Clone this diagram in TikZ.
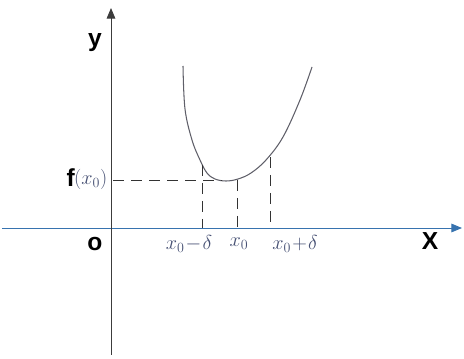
\documentclass[tikz,border=0pt]{standalone}
\usepackage{fontspec}
\setsansfont{Liberation Sans}
\usepackage{tikz}
\usetikzlibrary{arrows.meta}
\definecolor{xaxiscol}{RGB}{55,115,175}
\definecolor{yaxiscol}{RGB}{60,60,60}
\definecolor{curvecol}{RGB}{95,95,105}
\definecolor{handcol}{RGB}{70,80,115}
\tikzset{
  axisline/.style={-{Triangle[length=3.2mm, width=2.6mm]}, line width=0.8pt},
  curveline/.style={line width=0.9pt, color=curvecol},
  guideline/.style={dashed, dash pattern=on 3.2mm off 2.2mm, line width=0.8pt, color=black!80},
  axislabel/.style={font=\sffamily\bfseries\fontsize{21}{24}\selectfont, inner sep=0pt},
  handlabel/.style={font=\fontsize{18}{21}\selectfont, color=handcol, inner sep=0pt}
}

\begin{document}
\begin{tikzpicture}[x=0.03cm, y=0.03cm]
  \useasboundingbox (0,0) rectangle (464,359);
  % axes
  \coordinate (xstart) at (2,131);
  \coordinate (xend) at (462,131);
  \coordinate (ystart) at (111,4);
  \coordinate (yend) at (111,351);
  \draw[axisline, color=xaxiscol] (xstart) -- (xend);
  \draw[axisline, color=yaxiscol] (ystart) -- (yend);
  % curve
  \draw[curveline] plot[smooth, tension=0.6] coordinates {
    (183,293) (185,250) (192,219) (200,199) (207,186) (215,180)
    (226,178) (238,180) (251,186) (266,199) (283,222) (300,259) (312,292)};
  % points on the curve and on the axes
  \coordinate (fx) at (113,179);
  \coordinate (minpt) at (222,179);
  \coordinate (leftpt) at (202,194);
  \coordinate (leftax) at (202,131);
  \coordinate (midpt) at (237,179);
  \coordinate (midax) at (237,131);
  \coordinate (rightpt) at (270,202);
  \coordinate (rightax) at (270,131);
  \draw[guideline] (fx) -- (minpt);
  \draw[guideline] (leftpt) -- (leftax);
  \draw[guideline] (midpt) -- (midax);
  \draw[guideline] (rightpt) -- (rightax);
  % labels
  \node[axislabel] (ylab) at (95,316) {y};
  \node[axislabel] (xlab) at (430,118) {X};
  \node[axislabel] (olab) at (95,115) {o};
  \node[axislabel, anchor=east] (flab) at (75,181) {f};
  \node[handlabel, anchor=west] (fxlab) at (74,180) {$(x_0)$};
  \node[handlabel] (leftlab) at (189,115) {$x_0\!-\!\delta$};
  \node[handlabel] (midlab) at (239,115) {$x_0$};
  \node[handlabel] (rightlab) at (295,115) {$x_0\!+\!\delta$};
\end{tikzpicture}
\end{document}
